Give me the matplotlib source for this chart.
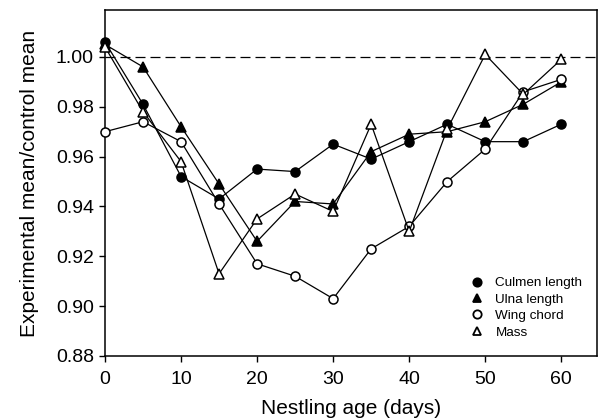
import matplotlib.pyplot as plt
from matplotlib.lines import Line2D

plt.rcParams["font.family"] = ["Liberation Sans", "DejaVu Sans"]

age = [0, 5, 10, 15, 20, 25, 30, 35, 40, 45, 50, 55, 60]
culmen = [1.006, 0.981, 0.952, 0.943, 0.955, 0.954, 0.965, 0.959, 0.966, 0.973, 0.966, 0.966, 0.973]
ulna = [1.005, 0.996, 0.972, 0.949, 0.926, 0.942, 0.941, 0.962, 0.969, 0.970, 0.974, 0.981, 0.990]
wing = [0.970, 0.974, 0.966, 0.941, 0.917, 0.912, 0.903, 0.923, 0.932, 0.950, 0.963, 0.986, 0.991]
mass = [1.004, 0.978, 0.958, 0.913, 0.935, 0.945, 0.938, 0.973, 0.930, 0.971, 1.001, 0.985, 0.999]

series = [
    ("Culmen length", culmen, "o", "black"),
    ("Ulna length", ulna, "^", "black"),
    ("Wing chord", wing, "o", "white"),
    ("Mass", mass, "^", "white"),
]

fig = plt.figure(figsize=(5.99, 4.2), dpi=100)
ax = fig.add_axes([0.1753, 0.1524, 0.8214, 0.8236])

ax.axhline(1.0, color="black", linewidth=0.9, linestyle=(0, (8, 4)), zorder=1)

handles = []
for i, (label, values, marker, face) in enumerate(series):
    ax.plot(age, values, color="black", linewidth=0.9, marker=marker, markersize=6.5,
            markerfacecolor=face, markeredgecolor="black", markeredgewidth=1.1,
            zorder=2 + i, clip_on=False)
    handles.append(Line2D([], [], linestyle="none", marker=marker, markersize=6,
                          markerfacecolor=face, markeredgecolor="black",
                          markeredgewidth=1.3, label=label))

ax.set_xlim(0, 64.7)
ax.set_ylim(0.88, 1.0188)
ax.set_xticks(range(0, 61, 10))
ax.set_yticks([0.88, 0.90, 0.92, 0.94, 0.96, 0.98, 1.00])
ax.set_yticklabels([f"{v:.2f}" for v in ax.get_yticks()])
ax.tick_params(direction="out", length=4.5, width=1, labelsize=14, top=False, right=False)
ax.tick_params(axis="x", pad=6)
for spine in ax.spines.values():
    spine.set_linewidth(1.1)

ax.set_xlabel("Nestling age (days)", fontsize=15, labelpad=8)
ax.set_ylabel("Experimental mean/control mean", fontsize=15, labelpad=12)

ax.legend(handles=handles, loc="lower right", bbox_to_anchor=(0.995, 0.015), frameon=False,
          fontsize=9.7, handlelength=1.0, handletextpad=0.9, labelspacing=0.3,
          borderaxespad=0.5)

fig.savefig("out.png", dpi=100)
